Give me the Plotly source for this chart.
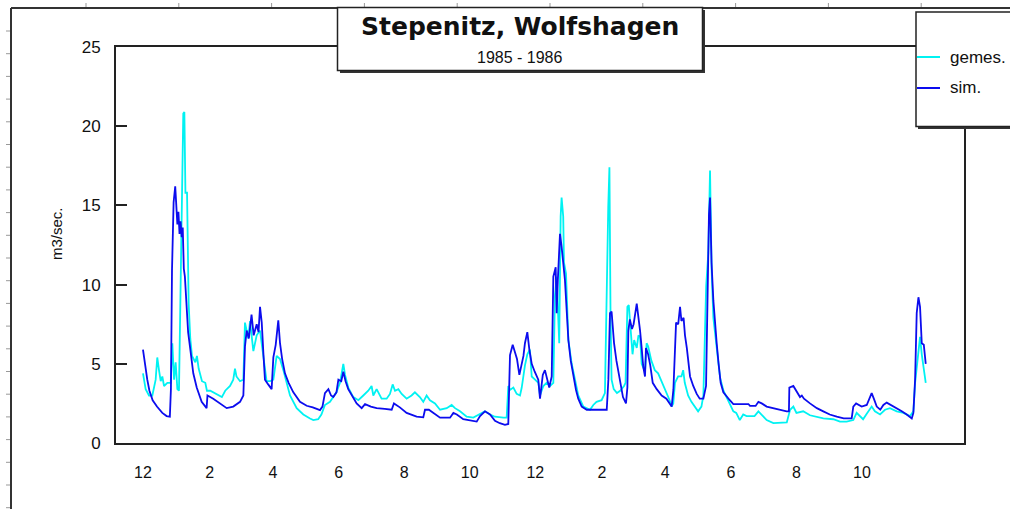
import plotly.graph_objects as go

# ---------------- data (day offset from 1 Dec 1984, discharge m3/s) ----------------
SIM_DAY = [0, 2, 4, 6, 9, 13, 18, 22, 25, 26, 27, 28.5, 30, 31, 32, 33, 34, 35, 36, 37, 38, 39,
           40.6, 42, 43.7, 46.8, 50, 54.6, 59.2, 60, 65.4, 71.6, 77.9, 84, 90.3, 93.4, 94.9, 96.5,
           98.5, 101, 103, 105.8, 107.5, 108.9, 110.5, 112, 113.5, 116.5, 119.7, 121.3, 123.5,
           125.9, 127.5, 129.5, 132.1, 135.5, 139.9, 146.1, 152.3, 158, 164.7, 167, 169.3, 172.5,
           175, 177.1, 180, 181.8, 184.5, 186.4, 188.5, 191, 194.2, 198.8, 203.5, 206.6, 212,
           217.4, 225, 231.4, 233.5, 239, 245.3, 254.6, 260.8, 262.4, 266, 270.2, 276.4, 285.7,
           288.8, 292, 298, 310.5, 313.6, 318.2, 322.9, 327.5, 332, 336.8, 339.9, 340.9, 341.5,
           344, 346, 348, 350.2, 352, 354, 355.4, 357.6, 359.5, 361.7, 364.5, 367.8, 369.4, 372,
           374, 376, 378, 380.3, 381.8, 384, 384.9, 386, 388, 389.5, 391.1, 392.6, 394.2, 395.8,
           398, 400.4, 402.9, 405, 408.2, 412.9, 431.5, 433, 434.5, 436, 438.3, 440.5, 443.8,
           446.6, 449.4, 450.7, 451.6, 453, 455, 456.5, 459.4, 461, 462.5, 464, 465.5, 467.1,
           468, 470, 472, 474.3, 478, 482.6, 487, 491.9, 493.5, 496, 498, 499.7, 501, 503, 504.3,
           506, 507.5, 509, 512, 515.2, 518, 521.4, 523.9, 525.4, 526.6, 527.6, 529, 530.7, 532,
           533.8, 535.5, 537.5, 540, 543.1, 546, 549.3, 557, 563.3, 564.8, 570, 572.6, 575.7,
           580.3, 586, 592.7, 598.9, 601, 601.4, 605.1, 608, 611.3, 613, 615, 620.6, 627, 633,
           639, 645.5, 652, 659.4, 660.9, 663.5, 668.7, 673.4, 678, 680, 682.7, 686, 688.9, 692,
           696, 701.3, 706, 710.6, 715.3, 716.8, 718.4, 719.9, 721.5, 723, 724.6, 726.5, 728.3]
SIM_Q = [5.9, 4.8, 4.0, 3.3, 2.7, 2.3, 1.9, 1.7, 1.66, 3.4, 10.9, 15.2, 16.2, 15.0, 13.8, 14.6,
         13.2, 14.0, 13.0, 13.6, 11.0, 10.5, 8.2, 7.0, 6.1, 4.4, 3.5, 2.6, 2.2, 3.0, 2.8, 2.5,
         2.2, 2.3, 2.6, 3.0, 6.1, 7.1, 6.6, 8.1, 6.8, 7.5, 7.0, 8.6, 7.6, 5.7, 4.0, 3.7, 3.4, 5.4,
         6.2, 7.75, 6.3, 5.3, 4.4, 3.8, 3.2, 2.6, 2.35, 2.25, 2.08, 2.3, 3.15, 3.4, 3.0, 2.9, 3.2,
         4.0, 3.9, 4.5, 3.9, 3.4, 3.0, 2.5, 2.2, 2.45, 2.3, 2.2, 2.15, 2.1, 2.5, 2.25, 1.9, 1.66,
         1.62, 2.1, 2.1, 1.9, 1.6, 1.6, 1.9, 1.8, 1.5, 1.35, 1.7, 2.0, 1.8, 1.4, 1.25, 1.15, 1.2,
         4.0, 5.55, 6.2, 5.8, 5.3, 4.3, 4.9, 5.5, 6.3, 7.0, 5.9, 5.0, 4.5, 4.0, 2.8, 4.3, 4.6,
         4.0, 3.5, 4.2, 10.5, 11.1, 8.2, 10.3, 13.2, 12.4, 11.4, 10.3, 8.4, 6.5, 5.2, 4.2, 3.35,
         2.8, 2.3, 2.1, 2.1, 4.0, 8.2, 8.3, 6.3, 5.2, 3.8, 2.9, 2.5, 3.5, 7.1, 7.8, 7.2, 7.5, 8.8,
         8.0, 7.1, 6.0, 4.8, 4.2, 6.0, 5.6, 4.9, 3.8, 3.4, 3.0, 2.8, 2.3, 3.35, 7.6, 7.5, 8.6,
         7.7, 7.9, 6.8, 6.0, 5.2, 4.2, 3.6, 3.1, 2.8, 2.8, 3.6, 10.1, 14.4, 15.5, 11.4, 9.0, 7.6,
         6.3, 5.05, 3.8, 3.2, 2.9, 2.7, 2.46, 2.46, 2.46, 2.34, 2.34, 2.6, 2.5, 2.3, 2.2, 2.1,
         2.0, 2.0, 3.5, 3.6, 3.3, 2.9, 3.0, 2.8, 2.5, 2.2, 2.0, 1.8, 1.66, 1.55, 1.55, 2.3, 2.5,
         2.3, 2.4, 3.15, 2.8, 2.3, 2.1, 2.4, 2.55, 2.4, 2.2, 2.0, 1.8, 1.55, 1.9, 4.0, 8.2, 9.2,
         8.6, 6.3, 6.2, 5.0]

OBS_DAY = [0, 2.5, 5.6, 8.7, 11.8, 13.3, 14.9, 16.5, 18, 19.6, 22.7, 25.8, 27.3, 28.9, 30.4, 32,
           33.5, 35, 36.6, 37.5, 38.5, 39.5, 41, 41.6, 42.5, 44, 45.6, 48.7, 50.2, 51.8, 54.9, 58,
           59.5, 62.6, 68.8, 73.4, 76.5, 81, 84, 85.6, 87, 90.3, 93.4, 94.9, 98, 99.6, 102.7,
           105.8, 108.9, 112, 115, 118.2, 121.3, 124.4, 127.5, 130.6, 136.8, 143, 149.2, 155.4,
           158.5, 163, 166, 169.3, 174, 177, 180, 183.3, 186.4, 188, 191, 195.7, 200.4, 205, 208,
           209.6, 212.7, 214.3, 217.4, 222, 226.7, 229.8, 232.3, 234.5, 237.6, 240.7, 245.3,
           249.9, 253, 257.6, 260.8, 263.9, 267, 271.7, 276.4, 282.6, 287.2, 290.3, 295, 301.2,
           307.4, 313.6, 318.2, 322.9, 327.5, 335.3, 338.4, 339.9, 341.5, 344.6, 347.7, 350.8,
           352.4, 355.4, 357.6, 360, 361.7, 364.8, 367.9, 369.4, 372.5, 375.6, 378.7, 381.8,
           383.3, 384.9, 386.4, 387.3, 388.6, 389.5, 391, 391.7, 393.6, 395.8, 398.9, 402, 405,
           409.7, 415.9, 419, 422, 426.7, 429.8, 432.9, 434, 435, 436, 438, 441, 444, 447.6, 449,
           450.7, 452, 454, 455.5, 457, 459.4, 461, 462.5, 464, 467.1, 468.6, 470, 473, 476.2,
           479.3, 482.6, 487, 490, 491.9, 493.4, 495, 497.9, 501, 502.6, 504.1, 507.2, 510.3,
           513.4, 516.5, 519.6, 521.4, 524, 526, 527.6, 529.1, 530.7, 533.3, 535.5, 537, 540.1,
           543.1, 546.2, 549.3, 552, 555.3, 558.5, 561.6, 566, 569, 572.6, 575.7, 580.3, 586.5,
           599, 602.1, 605.1, 608, 614.3, 620.6, 626.8, 633, 642.3, 648.5, 654.7, 660.9, 664,
           667, 670, 673.4, 678, 681, 685.8, 690.4, 695, 701.3, 707.5, 713.7, 716.8, 718.4,
           721.5, 723, 724.6, 726.2, 728.3]
OBS_Q = [4.4, 3.4, 3.0, 3.0, 4.0, 5.4, 4.6, 3.9, 4.2, 3.6, 3.8, 3.8, 6.3, 4.0, 5.1, 3.4, 3.3,
         10.1, 15.8, 20.8, 20.9, 15.8, 15.8, 10.9, 8.8, 6.6, 5.5, 5.1, 5.5, 4.7, 3.9, 3.8, 3.3,
         3.3, 3.1, 2.9, 3.3, 3.6, 4.0, 4.7, 4.2, 3.9, 4.0, 7.6, 6.6, 7.7, 5.8, 6.8, 7.1, 5.5, 3.9,
         3.9, 4.0, 5.5, 5.3, 4.6, 3.0, 2.2, 1.8, 1.55, 1.45, 1.5, 1.8, 2.4, 2.6, 2.9, 3.2, 3.8,
         5.0, 4.3, 3.5, 2.9, 2.7, 3.0, 3.2, 3.3, 3.6, 3.0, 3.4, 2.8, 2.8, 3.1, 3.7, 3.3, 3.4, 3.1,
         2.8, 3.0, 3.2, 2.9, 2.6, 3.0, 2.7, 2.5, 2.1, 2.2, 2.4, 2.2, 2.0, 1.66, 1.6, 1.8, 2.0,
         1.8, 1.66, 1.6, 1.6, 3.6, 3.35, 3.5, 3.1, 3.0, 3.5, 4.9, 5.6, 5.9, 4.2, 4.0, 3.8, 3.0,
         3.6, 3.8, 3.6, 3.8, 9.3, 10.5, 8.2, 6.3, 14.3, 15.5, 14.3, 11.4, 10.7, 6.5, 5.0, 4.0,
         3.0, 2.3, 2.1, 2.4, 2.6, 2.7, 3.15, 14.9, 17.4, 8.2, 4.0, 3.4, 3.15, 3.3, 3.6, 3.8, 8.6,
         8.7, 6.7, 5.6, 6.5, 6.0, 6.8, 6.7, 5.0, 4.5, 6.3, 6.1, 5.2, 4.6, 4.4, 3.9, 3.2, 2.7, 2.3,
         2.5, 3.8, 4.2, 4.2, 4.6, 3.8, 3.0, 2.6, 2.3, 2.0, 2.3, 3.0, 9.9, 12.0, 17.2, 10.9, 7.9,
         6.2, 4.8, 4.1, 3.3, 2.9, 2.5, 2.0, 1.9, 1.45, 1.8, 1.7, 1.7, 1.7, 2.0, 1.75, 1.45, 1.26,
         1.3, 2.1, 2.3, 1.9, 2.0, 1.75, 1.65, 1.55, 1.5, 1.35, 1.35, 1.45, 1.9, 1.7, 1.5, 1.85,
         2.3, 2.0, 1.8, 2.1, 2.2, 2.0, 1.9, 1.7, 2.0, 3.8, 5.9, 6.7, 5.6, 4.8, 3.8]

MONTH_TICK_DAYS = [0, 62, 121, 182, 243, 304, 365, 427, 486, 547, 608, 669]
MONTH_TICK_LABELS = ["12", "2", "4", "6", "8", "10", "12", "2", "4", "6", "8", "10"]
Y_TICKS = [0, 5, 10, 15, 20, 25]

TITLE = "Stepenitz, Wolfshagen"
SUBTITLE = "1985 - 1986"
Y_LABEL = "m3/sec."
OBS_NAME = "gemes."
SIM_NAME = "sim."

# ---------------- layout geometry (pixels) ----------------
W, H = 1010, 509
L, R, T, B = 116, 964, 47, 443


def px(x):
    return (x - L) / (R - L)


def py(y):
    return (B - y) / (B - T)


FONT = "Liberation Sans, Arial, sans-serif"
CYAN = "#00f2f2"
BLUE = "#0c0cee"
FRAME = "#222222"

fig = go.Figure()
fig.add_trace(go.Scatter(x=OBS_DAY, y=OBS_Q, mode="lines", name=OBS_NAME,
                         line=dict(color=CYAN, width=1.8), showlegend=False))
fig.add_trace(go.Scatter(x=SIM_DAY, y=SIM_Q, mode="lines", name=SIM_NAME,
                         line=dict(color=BLUE, width=1.8), showlegend=False))

shapes = []
# outer frame (left and top edges) with ruler ticks
shapes.append(dict(type="line", xref="paper", yref="paper", x0=px(11), x1=px(11),
                   y0=py(8), y1=py(512), line=dict(color="#333", width=2)))
shapes.append(dict(type="line", xref="paper", yref="paper", x0=px(11), x1=px(1012),
                   y0=py(8), y1=py(8), line=dict(color="#333", width=2)))
yy = 31.0
while yy < 509:
    shapes.append(dict(type="line", xref="paper", yref="paper", x0=px(6), x1=px(10),
                       y0=py(yy), y1=py(yy), line=dict(color="#999", width=1)))
    yy += 22.7
xx = 86.0
while xx < 1010:
    shapes.append(dict(type="line", xref="paper", yref="paper", x0=px(xx), x1=px(xx),
                       y0=py(3), y1=py(7), line=dict(color="#999", width=1)))
    xx += 92.8

# title box with shadow
shapes.append(dict(type="rect", xref="paper", yref="paper", x0=px(340), x1=px(705),
                   y0=py(73), y1=py(10), fillcolor="#333", line=dict(width=0), layer="above"))
shapes.append(dict(type="rect", xref="paper", yref="paper", x0=px(337.5), x1=px(702.5),
                   y0=py(70.5), y1=py(7.5), fillcolor="white",
                   line=dict(color="#222", width=1.5), layer="above"))
# legend box with shadow
shapes.append(dict(type="rect", xref="paper", yref="paper", x0=px(918), x1=px(1015),
                   y0=py(129), y1=py(14), fillcolor="#333", line=dict(width=0), layer="above"))
shapes.append(dict(type="rect", xref="paper", yref="paper", x0=px(916), x1=px(1015),
                   y0=py(126.5), y1=py(12), fillcolor="white",
                   line=dict(color="#222", width=1.5), layer="above"))
# legend line samples
for name, color, ly in [(OBS_NAME, CYAN, 57), (SIM_NAME, BLUE, 88)]:
    shapes.append(dict(type="line", xref="paper", yref="paper", x0=px(917), x1=px(940),
                       y0=py(ly), y1=py(ly), line=dict(color=color, width=2), layer="above"))

annotations = [
    dict(text="<b>" + TITLE + "</b>", xref="paper", yref="paper", x=px(520), y=py(26.5),
         xanchor="center", yanchor="middle", showarrow=False,
         font=dict(family="DejaVu Sans", size=25, color="#111")),
    dict(text=SUBTITLE, xref="paper", yref="paper", x=px(520), y=py(57),
         xanchor="center", yanchor="middle", showarrow=False,
         font=dict(family=FONT, size=16, color="#111")),
    dict(text=Y_LABEL, xref="paper", yref="paper", x=px(56), y=py(234), textangle=-90,
         xanchor="center", yanchor="middle", showarrow=False,
         font=dict(family=FONT, size=15, color="#111")),
]
for name, ly in [(OBS_NAME, 57), (SIM_NAME, 88)]:
    annotations.append(dict(text=name, xref="paper", yref="paper", x=px(948), y=py(ly),
                            xanchor="left", yanchor="middle", showarrow=False,
                            font=dict(family=FONT, size=17, color="#111")))

fig.update_layout(
    width=W, height=H,
    margin=dict(l=L, r=W - R, t=T, b=H - B, pad=0, autoexpand=False),
    paper_bgcolor="white", plot_bgcolor="white",
    showlegend=False,
    shapes=shapes, annotations=annotations,
    xaxis=dict(range=[-25.1, 763.9], tickmode="array", tickvals=MONTH_TICK_DAYS,
               ticktext=MONTH_TICK_LABELS, ticks="outside", ticklen=14,
               tickcolor="rgba(0,0,0,0)", showgrid=False, zeroline=False,
               showline=True, mirror=True, linecolor=FRAME, linewidth=2,
               tickfont=dict(family=FONT, size=16, color="#111")),
    yaxis=dict(range=[0, 25], tickmode="array", tickvals=Y_TICKS, ticks="inside",
               ticklen=11, tickwidth=2, tickcolor=FRAME, showgrid=False, zeroline=False,
               showline=True, mirror=True, linecolor=FRAME, linewidth=2,
               ticklabelstandoff=10,
               tickfont=dict(family=FONT, size=17, color="#111")),
)

fig.write_html("out.html")
